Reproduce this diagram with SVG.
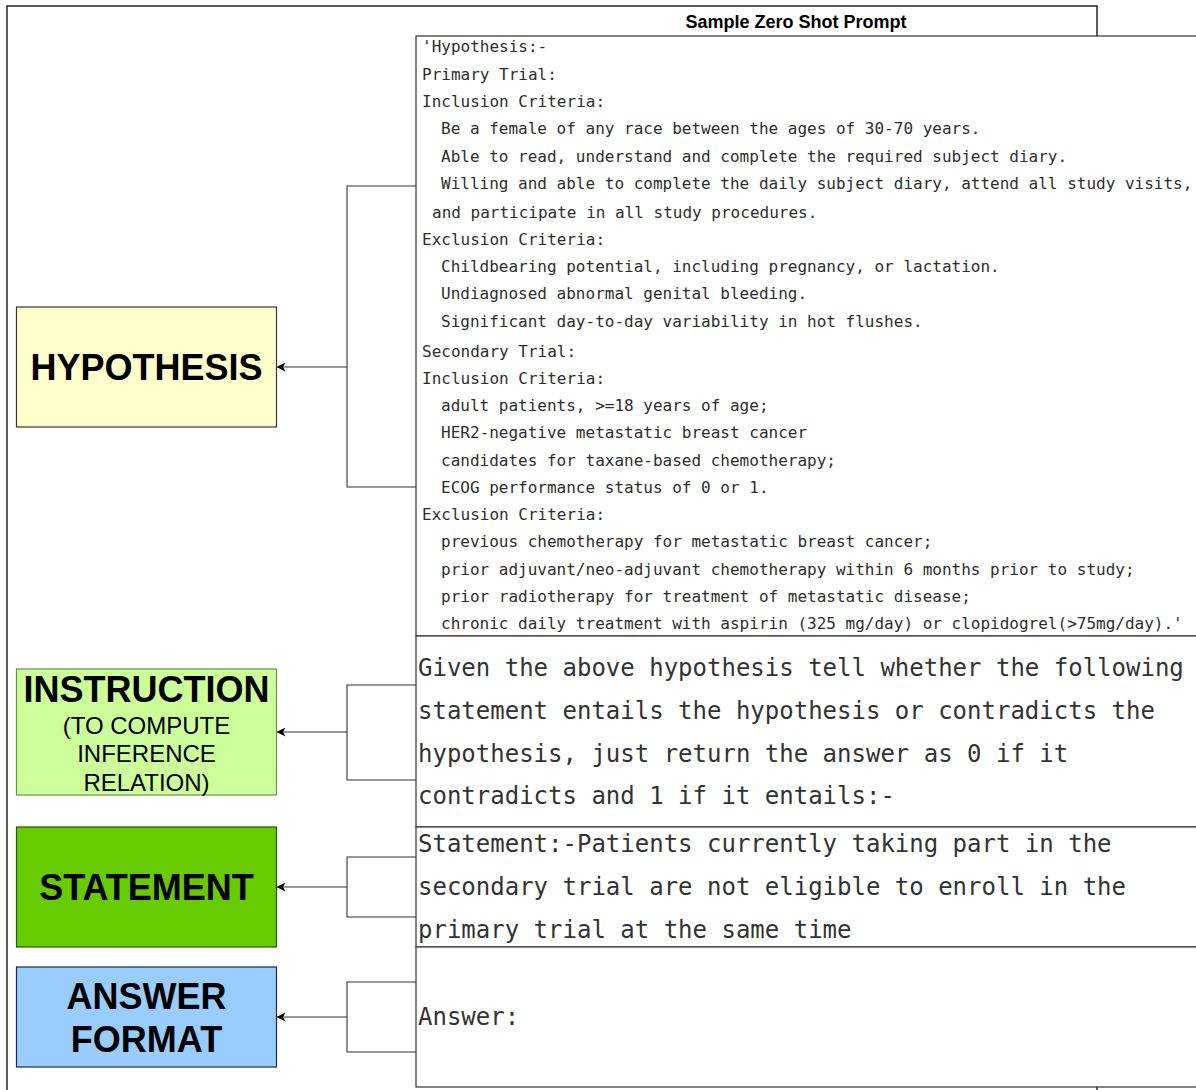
<svg xmlns="http://www.w3.org/2000/svg" width="1196" height="1090" viewBox="0 0 1196 1090">
<defs>
<style>
.frame{fill:none;stroke:#000;stroke-width:1.3}
.panel{fill:#fff;stroke:#333;stroke-width:1.2}
.box{stroke-width:1.2}
.lbl{font-family:"Liberation Sans",Arial,sans-serif;font-weight:bold;font-size:36px;fill:#000;text-anchor:middle;dominant-baseline:central}
.sub{font-family:"Liberation Sans",Arial,sans-serif;font-size:24px;fill:#000;text-anchor:middle;dominant-baseline:central}
.mono{font-family:"DejaVu Sans Mono","Liberation Mono",monospace;font-size:16px;fill:#2e2e2e;dominant-baseline:central;white-space:pre}
.big{font-family:"DejaVu Sans Mono","Liberation Mono",monospace;font-size:24px;fill:#333;dominant-baseline:central;white-space:pre}
.conn{fill:none;stroke:#333;stroke-width:1.1}
</style>
<marker id="arr" viewBox="0 0 10 10" refX="9" refY="5" markerWidth="9" markerHeight="9" markerUnits="userSpaceOnUse" orient="auto">
<path d="M0,0 L10,5 L0,10 L3,5 Z" fill="#000"/>
</marker>
</defs>
<rect x="0" y="0" width="1196" height="1090" fill="#fff"/>
<g id="frame">
<rect class="frame" x="7" y="6" width="1090" height="1100"/>
<text x="796" y="22" font-family="'Liberation Sans',Arial,sans-serif" font-weight="bold" font-size="18" text-anchor="middle" dominant-baseline="central" fill="#000">Sample Zero Shot Prompt</text>
</g>
<g id="hypothesis-panel">
<rect class="panel" x="416" y="36" width="800" height="600"/>
<text class="mono" x="422" y="46" font-size="14">'Hypothesis:-</text>
<text class="mono" x="422" y="74">Primary Trial:</text>
<text class="mono" x="422" y="101">Inclusion Criteria:</text>
<text class="mono" x="441" y="128">Be a female of any race between the ages of 30-70 years.</text>
<text class="mono" x="441" y="156">Able to read, understand and complete the required subject diary.</text>
<text class="mono" x="441" y="183">Willing and able to complete the daily subject diary, attend all study visits,</text>
<text class="mono" x="432" y="212">and participate in all study procedures.</text>
<text class="mono" x="422" y="239">Exclusion Criteria:</text>
<text class="mono" x="441" y="266">Childbearing potential, including pregnancy, or lactation.</text>
<text class="mono" x="441" y="293">Undiagnosed abnormal genital bleeding.</text>
<text class="mono" x="441" y="321">Significant day-to-day variability in hot flushes.</text>
<text class="mono" x="422" y="351">Secondary Trial:</text>
<text class="mono" x="422" y="378">Inclusion Criteria:</text>
<text class="mono" x="441" y="405">adult patients, &gt;=18 years of age;</text>
<text class="mono" x="441" y="432">HER2-negative metastatic breast cancer</text>
<text class="mono" x="441" y="460">candidates for taxane-based chemotherapy;</text>
<text class="mono" x="441" y="487">ECOG performance status of 0 or 1.</text>
<text class="mono" x="422" y="514">Exclusion Criteria:</text>
<text class="mono" x="441" y="541">previous chemotherapy for metastatic breast cancer;</text>
<text class="mono" x="441" y="569">prior adjuvant/neo-adjuvant chemotherapy within 6 months prior to study;</text>
<text class="mono" x="441" y="596">prior radiotherapy for treatment of metastatic disease;</text>
<text class="mono" x="441" y="623">chronic daily treatment with aspirin (325 mg/day) or clopidogrel(&gt;75mg/day).'</text>
</g>
<g id="instruction-panel">
<rect class="panel" x="416" y="636" width="800" height="191"/>
<text class="big" x="418" y="668">Given the above hypothesis tell whether the following</text>
<text class="big" x="418" y="711">statement entails the hypothesis or contradicts the</text>
<text class="big" x="418" y="754">hypothesis, just return the answer as 0 if it</text>
<text class="big" x="418" y="796">contradicts and 1 if it entails:-</text>
</g>
<g id="statement-panel">
<rect class="panel" x="416" y="827" width="800" height="120"/>
<text class="big" x="418" y="844">Statement:-Patients currently taking part in the</text>
<text class="big" x="418" y="887">secondary trial are not eligible to enroll in the</text>
<text class="big" x="418" y="930">primary trial at the same time</text>
</g>
<g id="answer-panel">
<rect class="panel" x="416" y="947" width="800" height="140"/>
<text class="big" x="418" y="1017">Answer:</text>
</g>
<g id="node-hypothesis">
<rect class="box" x="16.5" y="307" width="260" height="120" fill="#FFFFCC" stroke="#36393d"/>
<text class="lbl" x="146.5" y="367">HYPOTHESIS</text>
</g>
<g id="node-instruction">
<rect class="box" x="16.5" y="669" width="260" height="126" fill="#CCFF99" stroke="#6b8f4e"/>
<text class="lbl" x="146.5" y="689">INSTRUCTION</text>
<text class="sub" x="146.5" y="725">(TO COMPUTE</text>
<text class="sub" x="146.5" y="753">INFERENCE</text>
<text class="sub" x="146.5" y="782">RELATION)</text>
</g>
<g id="node-statement">
<rect class="box" x="16.5" y="827" width="260" height="120" fill="#66CC00" stroke="#2D5500"/>
<text class="lbl" x="146.5" y="887">STATEMENT</text>
</g>
<g id="node-answer">
<rect class="box" x="16.5" y="967" width="260" height="100" fill="#99CCFF" stroke="#1a2b44"/>
<text class="lbl" x="146.5" y="996">ANSWER</text>
<text class="lbl" x="146.5" y="1039">FORMAT</text>
</g>
<g id="connectors">
<path class="conn" d="M416,186 H347 V487 H416"/>
<path class="conn" d="M347,367 H277.5" marker-end="url(#arr)"/>
<path class="conn" d="M416,685 H347 V780 H416"/>
<path class="conn" d="M347,732 H277.5" marker-end="url(#arr)"/>
<path class="conn" d="M416,857 H347 V917 H416"/>
<path class="conn" d="M347,887 H277.5" marker-end="url(#arr)"/>
<path class="conn" d="M416,982 H347 V1052 H416"/>
<path class="conn" d="M347,1017 H277.5" marker-end="url(#arr)"/>
</g>
</svg>
